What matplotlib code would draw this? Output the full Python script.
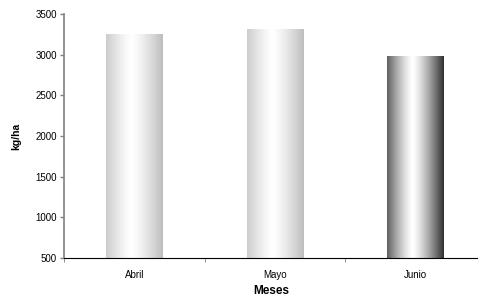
import numpy as np
import matplotlib.pyplot as plt
from matplotlib.colors import LinearSegmentedColormap

meses = ['Abril', 'Mayo', 'Junio']
rendimiento = [3250, 3310, 2980]
bordes = ['#bdbdbd', '#bdbdbd', '#303030']

plt.rcParams['font.family'] = ['Liberation Sans', 'DejaVu Sans']

fig = plt.figure(figsize=(4.78, 2.97), dpi=100)
ax = fig.add_axes([64 / 478, 1 - 258 / 297, 414 / 478, 244 / 297])

ax.set_xlim(-0.5, -0.5 + 414 / 140.5)
ax.set_ylim(500, 3500)
ymin = ax.get_ylim()[0]

x = np.arange(len(meses))
bars = ax.bar(x, rendimiento, width=0.4, color='none', zorder=2)

# horizontal gradient inside each bar: dark edge -> white centre -> dark edge
t = np.linspace(0, 1, 256)
perfil = np.clip(np.abs(t - 0.45) / 0.55, 0, 1) ** 1.3
for bar, borde in zip(bars, bordes):
    cmap = LinearSegmentedColormap.from_list('g', ['white', borde])
    x0, w, h = bar.get_x(), bar.get_width(), bar.get_height()
    ax.imshow(perfil[np.newaxis, :], cmap=cmap, vmin=0, vmax=1, aspect='auto',
              extent=[x0, x0 + w, ymin, h], zorder=1, interpolation='bilinear')

ax.set_xlim(-0.5, -0.5 + 414 / 140.5)
ax.set_ylim(500, 3500)
ax.set_yticks(range(500, 3501, 500))
ax.set_xticks(x)
ax.set_xticklabels(meses)
ax.set_xticks([-0.5, 0.5, 1.5], minor=True)
ax.tick_params(axis='x', which='major', length=0, pad=9, labelsize=7)
ax.tick_params(axis='x', which='minor', length=3, color='#808080')
ax.tick_params(axis='y', length=3, width=1, color='#808080', labelsize=7, pad=2)

for s in ['top', 'right']:
    ax.spines[s].set_visible(False)
ax.spines['left'].set_color('#808080')
ax.spines['left'].set_linewidth(1.2)
ax.spines['bottom'].set_color('black')
ax.spines['bottom'].set_zorder(3)

ax.set_ylabel('kg/ha', fontsize=7.5, fontweight='bold', labelpad=10)
ax.set_xlabel('Meses', fontsize=8.5, fontweight='bold', labelpad=3)

fig.savefig('out.png', dpi=100)
